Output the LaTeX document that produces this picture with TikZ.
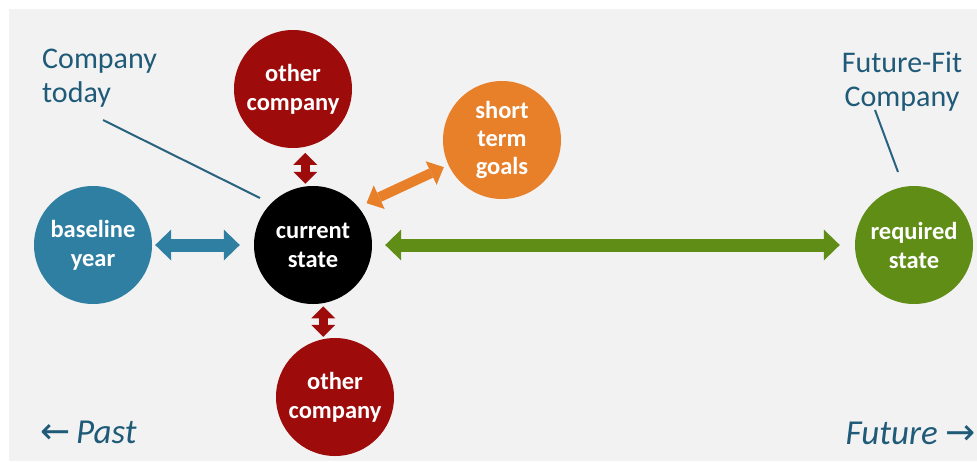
\documentclass[tikz,border=0pt]{standalone}
\usepackage{fontspec}
\setmainfont{Carlito}
\newfontfamily\arrowfont{DejaVu Sans}
\usetikzlibrary{arrows.meta,calc}
\definecolor{bgc}{HTML}{F2F2F2}
\definecolor{bluec}{HTML}{2F7FA3}
\definecolor{redc}{HTML}{9E0B0B}
\definecolor{orangec}{HTML}{E8802A}
\definecolor{greenc}{HTML}{608D16}
\definecolor{labelc}{HTML}{1F5B79}
\definecolor{linec}{HTML}{2A6380}
\begin{document}
\begin{tikzpicture}[x=1pt,y=-1pt,
  circ/.style={circle, minimum size=118pt, inner sep=0pt, text=white, align=center,
    font=\fontsize{24.5}{29}\selectfont\bfseries},
  lbl/.style={text=labelc, inner sep=0pt, font=\fontsize{30}{34}\selectfont},
  timelbl/.style={text=labelc, inner sep=0pt, font=\fontsize{35}{38}\selectfont\itshape},
  bigarrow/.style={line width=13pt, arrows={Triangle[width=31pt,length=16pt,line width=0pt]-Triangle[width=31pt,length=16pt,line width=0pt]}},
  midarrow/.style={line width=10pt, arrows={Triangle[width=26pt,length=14pt,line width=0pt]-Triangle[width=26pt,length=14pt,line width=0pt]}},
  halfarrow/.style={line width=9pt, arrows={-Triangle[width=24pt,length=12pt,line width=0pt]}},
  callout/.style={draw=linec, line width=2pt}
]
\useasboundingbox (0,0) rectangle (977,461);
\fill[white] (0,0) rectangle (977,461);
\fill[bgc] (9,9) rectangle (977,461);

\node[circ, fill=bluec] (base) at (93,245) {baseline\\year};
\node[circ, fill=black] (cur) at (313,245) {current\\state};
\node[circ, fill=redc] (oc1) at (293,89) {other\\company};
\node[circ, fill=redc] (oc2) at (335,397) {other\\company};
\node[circ, fill=orangec, font=\fontsize{24.5}{28}\selectfont\bfseries] (stg) at (502,140) {short\\term\\goals};
\node[circ, fill=greenc] (req) at (914,245) {required\\state};

\draw[bigarrow, bluec, shorten <=3pt, shorten >=14pt] (base) -- (cur);
\draw[bigarrow, greenc, shorten <=13pt, shorten >=15pt] (cur) -- (req);
\draw[midarrow, orangec, shorten <=9pt, shorten >=5pt] (cur.40) -- (stg.205);

\coordinate (m1) at ($(oc1.-78)!0.5!(oc1.-78 |- cur.north)$);
\draw[halfarrow, redc, shorten >=6pt] (m1) -- (oc1.-78);
\draw[halfarrow, redc, shorten >=2pt] (m1) -- (oc1.-78 |- cur.north);
\coordinate (m2) at ($(cur.-80)!0.5!(cur.-80 |- oc2.north)$);
\draw[halfarrow, redc, shorten >=3pt] (m2) -- (cur.-80);
\draw[halfarrow, redc, shorten >=1pt] (m2) -- (cur.-80 |- oc2.north);

\node[lbl, anchor=base west, align=left] (today) at (42,102) {Company\\today};
\node[lbl, anchor=base, align=center] (fit) at (902,106) {Future-Fit\\Company};
\coordinate (ct1) at (103,120);
\coordinate (ct2) at (260,198);
\draw[callout] (ct1) -- (ct2);
\coordinate (ff1) at (875,110);
\coordinate (ff2) at (898,172);
\draw[callout] (ff1) -- (ff2);

\node[timelbl, anchor=base west] (past) at (40,443) {{\arrowfont\upshape\fontsize{36}{38}\selectfont ←}\,Past};
\node[timelbl, anchor=base east] (future) at (976,444) {Future {\arrowfont\upshape\fontsize{36}{38}\selectfont →}};
\end{tikzpicture}
\end{document}
